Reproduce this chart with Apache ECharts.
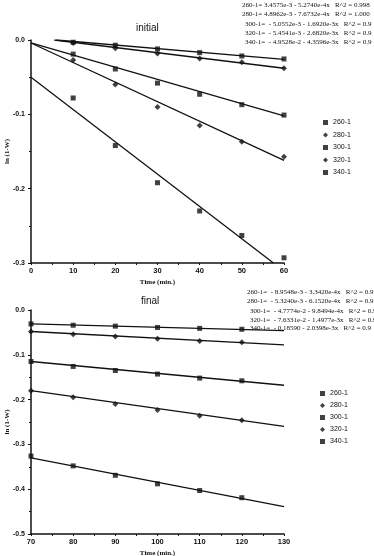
<!DOCTYPE html>
<html>
<head>
<meta charset="utf-8">
<script src="https://cdn.jsdelivr.net/npm/echarts@6/dist/echarts.min.js"></script>
<style>
  html, body { margin: 0; padding: 0; background: #fff; }
  #chart { width: 374px; height: 556px; }
</style>
</head>
<body>
<div id="chart"></div>
<script>
// 样本名称
var sampleNames = ['260-1', '280-1', '300-1', '320-1', '340-1'];
var sampleSymbols = ['rect', 'diamond', 'rect', 'diamond', 'rect'];

// initial: 时间与测量值
var initialTime = [10, 20, 30, 40, 50, 60];
var initial260 = [-0.003, -0.007, -0.012, -0.017, -0.0215, -0.0255];
var initial280 = [-0.004, -0.011, -0.018, -0.025, -0.030, -0.038];
var initial300 = [-0.019, -0.039, -0.058, -0.073, -0.087, -0.101];
var initial320 = [-0.027, -0.060, -0.090, -0.115, -0.137, -0.157];
var initial340 = [-0.078, -0.142, -0.192, -0.230, -0.263, -0.293];
// 拟合直线端点 [x, y]
var initialFitStart = [[6, 0], [5.5, 0], [0, -0.004], [0, -0.004], [0, -0.050]];
var initialFitEnd = [[60, -0.026], [60, -0.038], [60, -0.102], [60, -0.162], [57.5, -0.300]];
var initialEquations = [
    '260-1= 3.4575e-3 - 5.2740e-4x   R^2 = 0.998',
    '280-1= 4.8962e-3 - 7.6732e-4x   R^2 = 1.000',
    '300-1=  - 5.0552e-3 - 1.6920e-3x   R^2 = 0.9',
    '320-1=  - 5.4541e-3 - 2.6820e-3x   R^2 = 0.9',
    '340-1=  - 4.9528e-2 - 4.3596e-3x   R^2 = 0.9'
];

// final: 时间与测量值
var finalTime = [70, 80, 90, 100, 110, 120];
var final260 = [-0.031, -0.034, -0.036, -0.039, -0.041, -0.043];
var final280 = [-0.048, -0.054, -0.059, -0.064, -0.069, -0.072];
var final300 = [-0.115, -0.126, -0.135, -0.143, -0.152, -0.158];
var final320 = [-0.180, -0.195, -0.210, -0.223, -0.236, -0.246];
var final340 = [-0.326, -0.348, -0.369, -0.388, -0.403, -0.419];
var finalFitStart = [[70, -0.031], [70, -0.048], [70, -0.115], [70, -0.180], [70, -0.330]];
var finalFitEnd = [[130, -0.046], [130, -0.078], [130, -0.168], [130, -0.260], [130, -0.439]];
var finalEquations = [
    '260-1=  - 8.9548e-3 - 3.3420e-4x   R^2 = 0.9',
    '280-1=  - 5.3240e-3 - 6.1520e-4x   R^2 = 0.9',
    '300-1=  - 4.7774e-2 - 9.8494e-4x   R^2 = 0.9',
    '320-1=  - 7.6331e-2 - 1.4977e-3x   R^2 = 0.9',
    '340-1=  - 0.18590 - 2.0398e-3x   R^2 = 0.9'
];

var initialValues = [initial260, initial280, initial300, initial320, initial340];
var finalValues = [final260, final280, final300, final320, final340];

var myChart = echarts.init(document.getElementById('chart'));
var series = [];

function addSeries(idx, times, values, fitStart, fitEnd) {
    for (var i = 0; i < sampleNames.length; i++) {
        var pts = [];
        for (var j = 0; j < times.length; j++) {
            pts.push([times[j], values[i][j]]);
        }
        series.push({
            name: sampleNames[i],
            type: 'scatter',
            xAxisIndex: idx,
            yAxisIndex: idx,
            symbol: sampleSymbols[i],
            symbolSize: sampleSymbols[i] == 'rect' ? 5 : 6,
            itemStyle: { color: '#111' },
            data: pts,
            z: 3
        });
        series.push({
            name: sampleNames[i] + ' fit',
            type: 'line',
            xAxisIndex: idx,
            yAxisIndex: idx,
            symbol: 'none',
            lineStyle: { color: '#111', width: 1.3 },
            data: [fitStart[i], fitEnd[i]],
            silent: true,
            z: 2
        });
    }
}
addSeries(0, initialTime, initialValues, initialFitStart, initialFitEnd);
addSeries(1, finalTime, finalValues, finalFitStart, finalFitEnd);

var graphics = [];
function addEquations(lines, xs, ys) {
    for (var i = 0; i < lines.length; i++) {
        graphics.push({
            type: 'text',
            left: xs[i],
            top: ys[i],
            style: {
                text: lines[i],
                fill: '#111',
                font: '7px "Liberation Serif", serif'
            }
        });
    }
}
addEquations(initialEquations, [242, 242, 245, 245, 245], [1.5, 11, 20.5, 30, 39]);
addEquations(finalEquations, [247, 247, 250, 250, 250], [289, 298, 307.5, 316.5, 325]);

function axisX(idx, min, max) {
    return {
        type: 'value',
        gridIndex: idx,
        min: min,
        max: max,
        interval: 10,
        name: 'Time (min.)',
        nameLocation: 'middle',
        nameGap: 16,
        nameMoveOverlap: false,
        nameTextStyle: { fontFamily: 'Liberation Serif', fontWeight: 'bold', fontSize: 7, color: '#111' },
        axisLine: { onZero: false, lineStyle: { color: '#111', width: 1.5 } },
        axisTick: { show: true, length: 2, lineStyle: { color: '#111' } },
        minorTick: { show: true, splitNumber: 2, length: 2, lineStyle: { color: '#111' } },
        axisLabel: { fontFamily: 'Liberation Sans', fontWeight: 'bold', fontSize: 7.5, color: '#111', margin: 4 },
        splitLine: { show: false }
    };
}
function axisY(idx, min) {
    return {
        type: 'value',
        gridIndex: idx,
        min: min,
        max: 0,
        interval: 0.1,
        name: 'ln (1-W)',
        nameLocation: 'middle',
        nameGap: 20,
        nameRotate: 90,
        nameMoveOverlap: false,
        nameTextStyle: { fontFamily: 'Liberation Serif', fontWeight: 'bold', fontSize: 7, color: '#111' },
        axisLine: { show: true, onZero: false, lineStyle: { color: '#111', width: 1.5 } },
        axisTick: { show: true, length: 3, lineStyle: { color: '#111' } },
        minorTick: { show: true, splitNumber: 2, length: 2, lineStyle: { color: '#111' } },
        axisLabel: {
            fontFamily: 'Liberation Sans', fontWeight: 'bold', fontSize: 7, color: '#111', margin: 6,
            formatter: function (v) { return v === 0 ? '0.0' : v.toFixed(1); }
        },
        splitLine: { show: false }
    };
}

function legendData() {
    var d = [];
    for (var i = 0; i < sampleNames.length; i++) {
        d.push({ name: sampleNames[i], icon: sampleSymbols[i] });
    }
    return d;
}
var legendText = { fontFamily: 'Liberation Sans', fontSize: 7, color: '#111' };

var option = {
    backgroundColor: '#fff',
    animation: false,
    title: [
        { text: 'initial', left: 131, top: 18, textStyle: { fontFamily: 'Liberation Sans', fontWeight: 'normal', fontSize: 10, color: '#111' } },
        { text: 'final', left: 136, top: 291, textStyle: { fontFamily: 'Liberation Sans', fontWeight: 'normal', fontSize: 10, color: '#111' } }
    ],
    legend: [
        { data: legendData(), orient: 'vertical', left: 318, top: 114, itemWidth: 5, itemHeight: 5, itemGap: 5.5, textStyle: legendText, selectedMode: false },
        { data: legendData(), orient: 'vertical', left: 315, top: 385, itemWidth: 5, itemHeight: 5, itemGap: 5, textStyle: legendText, selectedMode: false }
    ],
    grid: [
        { left: 31, top: 40, width: 253, height: 223, outerBoundsMode: 'none' },
        { left: 31, top: 310, width: 253, height: 224, outerBoundsMode: 'none' }
    ],
    xAxis: [axisX(0, 0, 60), axisX(1, 70, 130)],
    yAxis: [axisY(0, -0.3), axisY(1, -0.5)],
    graphic: graphics,
    series: series
};
myChart.setOption(option);
</script>
</body>
</html>
